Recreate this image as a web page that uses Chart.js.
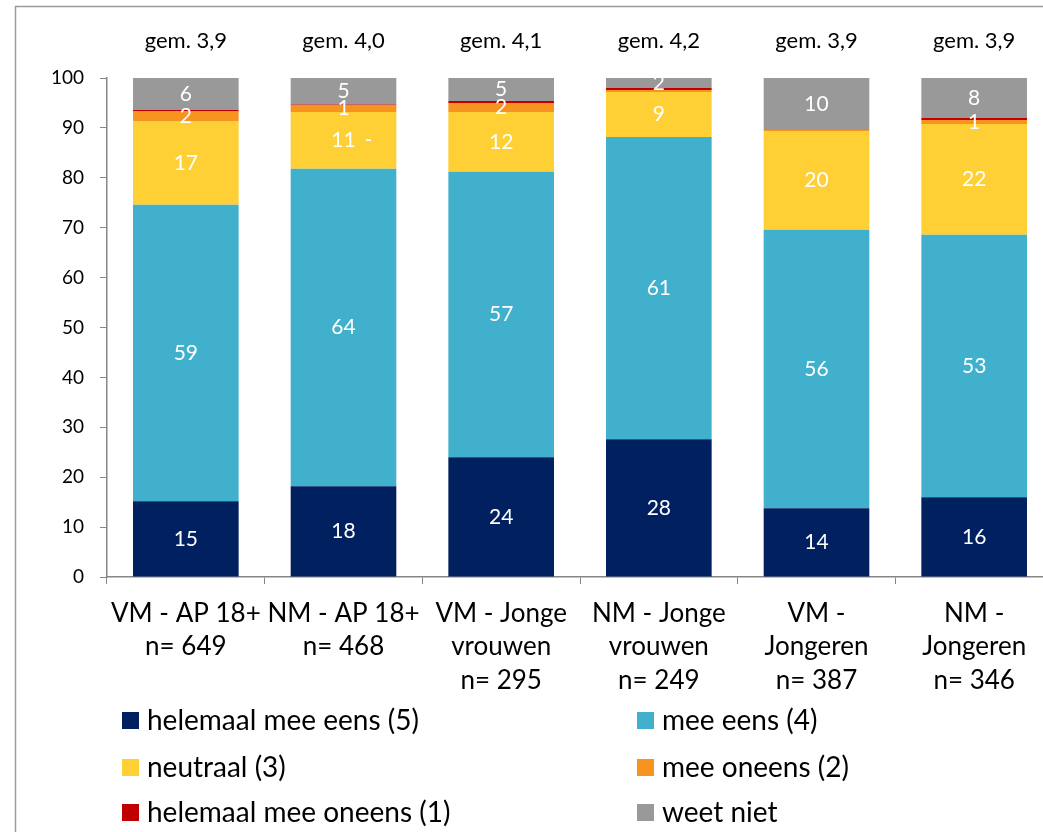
<!DOCTYPE html>
<html>
<head>
<meta charset="utf-8">
<script src="https://cdn.jsdelivr.net/npm/chart.js@4.4.1/dist/chart.umd.min.js"></script>
<style>
  html, body { margin: 0; padding: 0; background: #ffffff; overflow: hidden; }
  canvas { display: block; }
</style>
</head>
<body>
<canvas id="c" width="1053" height="832"></canvas>
<script>
// Groups and respondent counts
const categories = [
  ['VM - AP 18+', 'n= 649'],
  ['NM - AP 18+', 'n= 468'],
  ['VM - Jonge', 'vrouwen', 'n= 295'],
  ['NM - Jonge', 'vrouwen', 'n= 249'],
  ['VM -', 'Jongeren', 'n= 387'],
  ['NM -', 'Jongeren', 'n= 346']
];
// Average score per group
const gemLabels = ['gem. 3,9', 'gem. 4,0', 'gem. 4,1', 'gem. 4,2', 'gem. 3,9', 'gem. 3,9'];

// Answer shares (%)
const helemaalEens   = [15.2, 18.2, 24.0, 27.6, 13.8, 16.0];
const meeEens        = [59.4, 63.6, 57.2, 60.6, 55.8, 52.6];
const neutraal       = [16.8, 11.4, 12.0,  9.0, 19.8, 22.2];
const meeOneens      = [ 1.9,  1.3,  1.8,  0.4,  0.2,  0.8];
const helemaalOneens = [ 0.3,  0.2,  0.4,  0.4,  0.0,  0.4];
const weetNiet       = [ 6.4,  5.3,  4.6,  2.0, 10.4,  8.0];

// Loose note printed next to the neutral share of one bar
const neutraalNote = [null, '-', null, null, null, null];

const yTicks = [0, 10, 20, 30, 40, 50, 60, 70, 80, 90, 100];

const FONT = "Lato, 'Open Sans', sans-serif";
const AXIS_GREY = '#868686';

const segmentLabels = {
  id: 'segmentLabels',
  afterDatasetsDraw(chart) {
    const ctx = chart.ctx;
    ctx.save();
    ctx.fillStyle = '#ffffff';
    ctx.font = '21px ' + FONT;
    ctx.textAlign = 'center';
    ctx.textBaseline = 'middle';
    chart.data.datasets.forEach((ds, di) => {
      const meta = chart.getDatasetMeta(di);
      meta.data.forEach((bar, i) => {
        const v = Math.round(ds.data[i]);
        const cy = (bar.y + bar.base) / 2;
        if (v >= 1) ctx.fillText(String(v), bar.x, cy);
        if (ds.note && ds.note[i]) ctx.fillText(ds.note[i], bar.x + 25, cy);
      });
    });
    ctx.restore();
  }
};

const decorations = {
  id: 'decorations',
  beforeDraw(chart) {
    const ctx = chart.ctx;
    ctx.save();
    ctx.strokeStyle = '#9a9a9a';
    ctx.lineWidth = 1.5;
    ctx.beginPath();
    ctx.moveTo(15.5, chart.height);
    ctx.lineTo(15.5, 6.5);
    ctx.lineTo(chart.width, 6.5);
    ctx.stroke();
    ctx.restore();
  },
  afterDraw(chart) {
    const ctx = chart.ctx;
    const x = chart.scales.x;
    ctx.save();
    // average scores above the bars
    ctx.fillStyle = '#000000';
    ctx.font = '22px ' + FONT;
    ctx.textAlign = 'center';
    ctx.textBaseline = 'middle';
    gemLabels.forEach((t, i) => ctx.fillText(t, x.getPixelForValue(i), 41));

    // legend in two columns
    const colX = [122, 637];
    const rowY = [720, 767, 812];
    ctx.font = '28px ' + FONT;
    ctx.textAlign = 'left';
    chart.data.datasets.forEach((ds, i) => {
      const bx = colX[i % 2];
      const by = rowY[Math.floor(i / 2)];
      ctx.fillStyle = ds.backgroundColor;
      ctx.fillRect(bx, by - 8, 17, 17);
      ctx.fillStyle = '#000000';
      ctx.fillText(ds.label, bx + 25, by + 1);
    });
    ctx.restore();
  }
};

const datasets = [
  { label: 'helemaal mee eens (5)', data: helemaalEens, backgroundColor: '#002060' },
  { label: 'mee eens (4)', data: meeEens, backgroundColor: '#41b0cd' },
  { label: 'neutraal (3)', data: neutraal, backgroundColor: '#fed035', note: neutraalNote },
  { label: 'mee oneens (2)', data: meeOneens, backgroundColor: '#f7941f' },
  { label: 'helemaal mee oneens (1)', data: helemaalOneens, backgroundColor: '#c00000' },
  { label: 'weet niet', data: weetNiet, backgroundColor: '#999999' }
].map(d => Object.assign({ borderWidth: 0, barPercentage: 0.67, categoryPercentage: 1.0 }, d));

new Chart(document.getElementById('c'), {
  type: 'bar',
  data: { labels: categories, datasets },
  options: {
    responsive: false,
    animation: false,
    devicePixelRatio: 1,
    layout: { padding: { top: 78, left: 0, right: 0, bottom: 0 } },
    plugins: { legend: { display: false }, tooltip: { enabled: false } },
    scales: {
      x: {
        stacked: true,
        grid: { display: true, drawOnChartArea: false, drawTicks: true, tickLength: 7, color: AXIS_GREY, offset: true },
        border: { display: true, color: AXIS_GREY, width: 1.5 },
        ticks: { color: '#000000', font: { family: FONT, size: 26, lineHeight: 1.28 }, padding: 13, maxRotation: 0, autoSkip: false },
        afterFit(scale) { scale.height = 255; }
      },
      y: {
        stacked: true,
        min: 0,
        max: 100,
        afterBuildTicks(scale) { scale.ticks = yTicks.map(v => ({ value: v })); },
        grid: { display: true, drawOnChartArea: false, drawTicks: true, tickLength: 7, color: AXIS_GREY },
        border: { display: true, color: AXIS_GREY, width: 1.5 },
        ticks: { color: '#000000', font: { family: FONT, size: 19 }, padding: 16 },
        afterFit(scale) { scale.width = 107; }
      }
    }
  },
  plugins: [segmentLabels, decorations]
});
</script>
</body>
</html>
